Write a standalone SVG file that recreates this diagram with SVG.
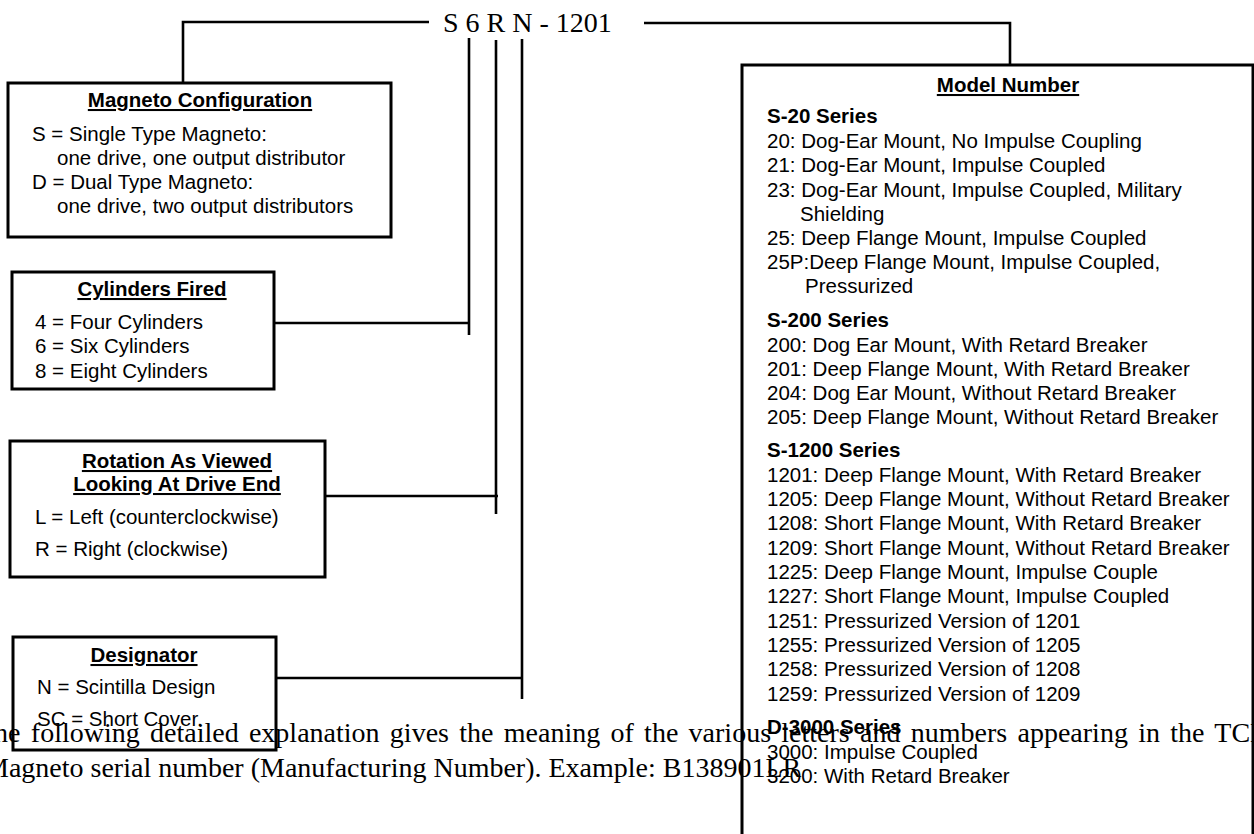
<svg xmlns="http://www.w3.org/2000/svg" width="1254" height="834" viewBox="0 0 1254 834">
<style>
.box{fill:none;stroke:#000;stroke-width:3}
.ln{fill:none;stroke:#000;stroke-width:2.6}
.t{font-family:"Liberation Sans",Arial,sans-serif;font-size:20.5px;fill:#000}
.h{font-family:"Liberation Sans",Arial,sans-serif;font-size:20.5px;font-weight:bold;fill:#000;text-anchor:middle;text-decoration:underline}
.b{font-family:"Liberation Sans",Arial,sans-serif;font-size:20.5px;font-weight:bold;fill:#000}
.s{font-family:"Liberation Serif","Times New Roman",serif;font-size:28px;fill:#000}
</style>
<rect width="1254" height="834" fill="#fff"/>
<g id="connectors">
<path class="ln" d="M429 22 H183 V83"/>
<path class="ln" d="M644 23 H1010 V65"/>
<path class="ln" d="M469 38 V335 M274 323 H469"/>
<path class="ln" d="M496 40 V514 M325 496 H498"/>
<path class="ln" d="M522 39 V699 M276 678 H522"/>
</g>
<g id="code">
<text class="s" x="443" y="32">S 6 R N - 1201</text>
</g>
<g id="paragraph">
<text class="s" x="-23" y="742" word-spacing="3.3">The following detailed explanation gives the meaning of the various letters and numbers appearing in the TCM</text>
<text class="s" x="-16" y="777">Magneto serial number (Manufacturing Number). Example: B138901LR</text>
</g>
<g id="magneto-configuration">
<rect class="box" x="8" y="83" width="383" height="154"/>
<text class="h" x="200" y="107">Magneto Configuration</text>
<text class="t" x="32" y="141">S = Single Type Magneto:</text>
<text class="t" x="57" y="165">one drive, one output distributor</text>
<text class="t" x="32" y="189">D = Dual Type Magneto:</text>
<text class="t" x="57" y="213">one drive, two output distributors</text>
</g>
<g id="cylinders-fired">
<rect class="box" x="12" y="272" width="262" height="117"/>
<text class="h" x="152" y="296">Cylinders Fired</text>
<text class="t" x="35" y="329">4 = Four Cylinders</text>
<text class="t" x="35" y="353">6 = Six Cylinders</text>
<text class="t" x="35" y="378">8 = Eight Cylinders</text>
</g>
<g id="rotation">
<rect class="box" x="10" y="441" width="315" height="136"/>
<text class="h" x="177" y="468">Rotation As Viewed</text>
<text class="h" x="177" y="491">Looking At Drive End</text>
<text class="t" x="35" y="524">L = Left (counterclockwise)</text>
<text class="t" x="35" y="556">R = Right (clockwise)</text>
</g>
<g id="designator">
<rect class="box" x="13" y="637" width="263" height="113"/>
<text class="h" x="144" y="662">Designator</text>
<text class="t" x="37" y="694">N = Scintilla Design</text>
<text class="t" x="37" y="726">SC = Short Cover.</text>
</g>
<g id="model-number">
<rect class="box" x="742" y="65" width="511" height="800"/>
<text class="h" x="1008" y="92">Model Number</text>
<text class="b" x="767" y="123">S-20 Series</text>
<text class="t" x="767" y="148">20: Dog-Ear Mount, No Impulse Coupling</text>
<text class="t" x="767" y="172">21: Dog-Ear Mount, Impulse Coupled</text>
<text class="t" x="767" y="197">23: Dog-Ear Mount, Impulse Coupled, Military</text>
<text class="t" x="800" y="221">Shielding</text>
<text class="t" x="767" y="245">25: Deep Flange Mount, Impulse Coupled</text>
<text class="t" x="767" y="269">25P:Deep Flange Mount, Impulse Coupled,</text>
<text class="t" x="805" y="293">Pressurized</text>
<text class="b" x="767" y="327">S-200 Series</text>
<text class="t" x="767" y="352">200: Dog Ear Mount, With Retard Breaker</text>
<text class="t" x="767" y="376">201: Deep Flange Mount, With Retard Breaker</text>
<text class="t" x="767" y="400">204: Dog Ear Mount, Without Retard Breaker</text>
<text class="t" x="767" y="424">205: Deep Flange Mount, Without Retard Breaker</text>
<text class="b" x="767" y="457">S-1200 Series</text>
<text class="t" x="767" y="482">1201: Deep Flange Mount, With Retard Breaker</text>
<text class="t" x="767" y="506">1205: Deep Flange Mount, Without Retard Breaker</text>
<text class="t" x="767" y="530">1208: Short Flange Mount, With Retard Breaker</text>
<text class="t" x="767" y="555">1209: Short Flange Mount, Without Retard Breaker</text>
<text class="t" x="767" y="579">1225: Deep Flange Mount, Impulse Couple</text>
<text class="t" x="767" y="603">1227: Short Flange Mount, Impulse Coupled</text>
<text class="t" x="767" y="628">1251: Pressurized Version of 1201</text>
<text class="t" x="767" y="652">1255: Pressurized Version of 1205</text>
<text class="t" x="767" y="676">1258: Pressurized Version of 1208</text>
<text class="t" x="767" y="701">1259: Pressurized Version of 1209</text>
<text class="b" x="767" y="734">D-3000 Series</text>
<text class="t" x="767" y="759">3000: Impulse Coupled</text>
<text class="t" x="767" y="783">3200: With Retard Breaker</text>
</g>
</svg>
